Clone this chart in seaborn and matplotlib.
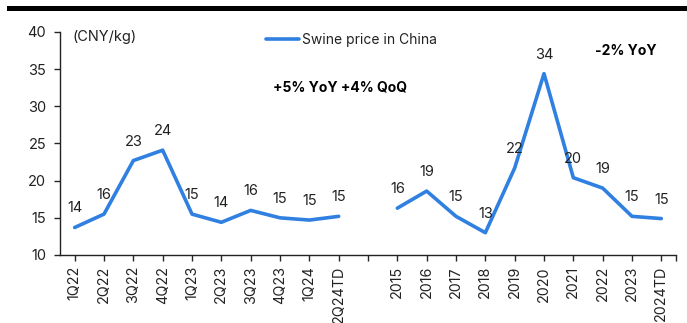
import numpy as np
import pandas as pd
import matplotlib
matplotlib.use("Agg")
import matplotlib.pyplot as plt
from matplotlib.lines import Line2D
import seaborn as sns

quarters = ["1Q22", "2Q22", "3Q22", "4Q22", "1Q23", "2Q23", "3Q23", "4Q23", "1Q24", "2Q24TD"]
quarter_prices = [13.7, 15.5, 22.7, 24.1, 15.5, 14.4, 16.0, 15.0, 14.7, 15.2]
quarter_labels = ["14", "16", "23", "24", "15", "14", "16", "15", "15", "15"]

years = ["2015", "2016", "2017", "2018", "2019", "2020", "2021", "2022", "2023", "2024TD"]
year_prices = [16.3, 18.6, 15.2, 13.0, 21.7, 34.4, 20.4, 19.0, 15.2, 14.9]
year_labels = ["16", "19", "15", "13", "22", "34", "20", "19", "15", "15"]

series_name = "Swine price in China"
unit_text = "(CNY/kg)"
note_quarter = "+5% YoY +4% QoQ"
note_year = "-2% YoY"

sns.set_theme(style="white")
plt.rcParams["font.family"] = ["Inter", "DejaVu Sans"]

color = "#2F80E0"

# build frame: two segments separated by an empty category
cats = quarters + [""] + years
seg = ["q"] * len(quarters) + ["gap"] + ["y"] * len(years)
vals = quarter_prices + [np.nan] + year_prices
labs = quarter_labels + [""] + year_labels
df = pd.DataFrame({"cat": cats, "pos": np.arange(len(cats)), "price": vals,
                   "label": labs, "seg": seg})

fig = plt.figure(figsize=(6.87, 3.23), dpi=100)
ax = fig.add_axes([60 / 687, 1 - 255 / 323, 616 / 687, 223 / 323])

for s in ["q", "y"]:
    d = df[df["seg"] == s]
    sns.lineplot(data=d, x="pos", y="price", ax=ax, color=color, linewidth=2.6,
                 estimator=None, sort=False, legend=False)

for _, r in df.dropna().iterrows():
    ax.annotate(r["label"], (r["pos"], r["price"]), xytext=(0, 19),
                textcoords="offset pixels", ha="center", va="center",
                fontsize=10.5, color="#222222")

ax.set_xlim(-0.5, len(cats) - 0.5)
ax.set_ylim(10, 40)
ax.set_yticks(range(10, 41, 5))
ax.set_xticks(df["pos"])
ax.set_xticklabels(df["cat"], rotation=90, fontsize=10.3, color="#222222")
ax.tick_params(axis="y", labelsize=10.5, labelcolor="#222222", length=4, width=1,
               direction="out", left=True, pad=6)
ax.tick_params(axis="x", length=4, width=1, direction="out", bottom=True, pad=4)
ax.set_xticks([len(cats) - 0.5], minor=True)
ax.tick_params(axis="x", which="minor", length=4, width=1, bottom=True)
ax.set_xlabel("")
ax.set_ylabel("")
for sp in ["top", "right"]:
    ax.spines[sp].set_visible(False)
for sp in ["left", "bottom"]:
    ax.spines[sp].set_color("#222222")
    ax.spines[sp].set_linewidth(1)

handle = Line2D([], [], color=color, linewidth=2.6)
ax.legend([handle], [series_name], loc="upper left", bbox_to_anchor=(200 / 616, 1.02),
          frameon=False, fontsize=10, handlelength=2.4, handletextpad=0.2,
          labelcolor="#222222", borderaxespad=0)

fig.text(73 / 687, 1 - 37 / 323, unit_text, fontsize=10.5, color="#222222",
         ha="left", va="center")
fig.text(340 / 687, 1 - 88 / 323, note_quarter, fontsize=10, fontweight="bold",
         color="black", ha="center", va="center")
fig.text(626 / 687, 1 - 51 / 323, note_year, fontsize=10, fontweight="bold",
         color="black", ha="center", va="center")

# top rule
fig.add_artist(plt.Rectangle((7 / 687, 1 - 10.5 / 323), 680 / 687, 4.5 / 323,
                             transform=fig.transFigure, color="black", lw=0))

fig.savefig("out.png", dpi=100)
